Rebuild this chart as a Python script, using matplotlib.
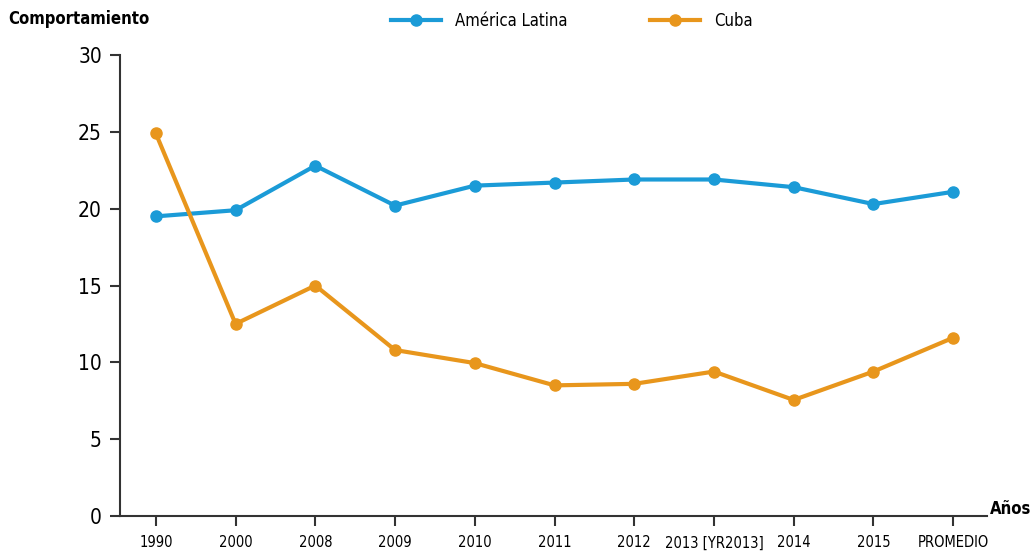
import matplotlib.pyplot as plt

# Data
years = ["1990", "2000", "2008", "2009", "2010", "2011", "2012",
         "2013 [YR2013]", "2014", "2015", "PROMEDIO"]
america_latina = [19.5, 19.9, 22.8, 20.2, 21.5, 21.7, 21.9, 21.9, 21.4, 20.3, 21.1]
cuba = [24.9, 12.5, 15.0, 10.8, 9.95, 8.5, 8.6, 9.4, 7.55, 9.4, 11.6]

plt.rcParams["font.family"] = ["DejaVu Sans"]
plt.rcParams["font.stretch"] = "condensed"

blue = "#1b9bd7"
orange = "#e8961c"

fig = plt.figure(figsize=(10.34, 5.56), dpi=100)
ax = fig.add_axes([0.116, 0.072, 0.839, 0.829])

x = list(range(len(years)))
ax.plot(x, america_latina, color=blue, lw=3, marker="o", ms=8, label="América Latina")
ax.plot(x, cuba, color=orange, lw=3, marker="o", ms=8, label="Cuba")

ax.set_xlim(-0.45, 10.43)
ax.set_ylim(0, 30)
ax.set_yticks([0, 5, 10, 15, 20, 25, 30])
ax.set_xticks(x)
ax.set_xticklabels(years)

# Only left and bottom axis lines, as in the reference
for side in ["top", "right"]:
    ax.spines[side].set_visible(False)
for side in ["left", "bottom"]:
    ax.spines[side].set_color("#333333")
    ax.spines[side].set_linewidth(1.5)

ax.tick_params(axis="y", labelsize=15, length=7, width=1.5, pad=6, color="#333333")
ax.tick_params(axis="x", labelsize=10.5, length=7, width=1.5, pad=7, color="#333333")

fig.text(0.008, 0.965, "Comportamiento", fontsize=12, fontweight="bold", va="center")
fig.text(0.957, 0.085, "Años", fontsize=12, fontweight="bold", va="center")

fig.legend(loc="center", bbox_to_anchor=(0.553, 0.962), ncol=2, frameon=False,
           fontsize=12, handlelength=3, columnspacing=5)

fig.savefig("out.png", dpi=100)
